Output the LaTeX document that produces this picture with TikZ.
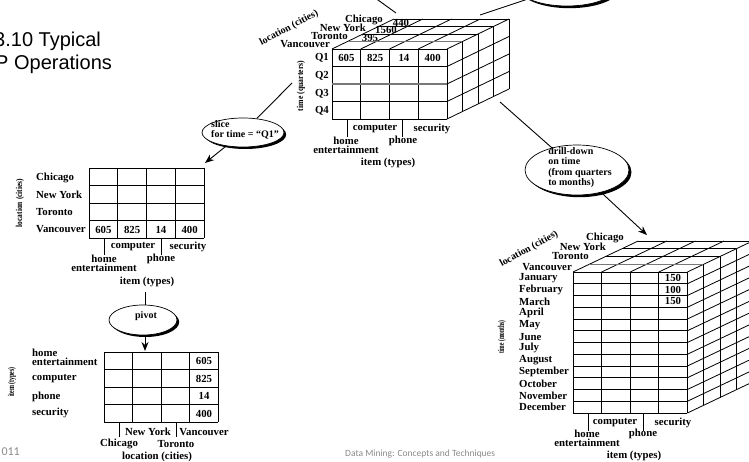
\documentclass[tikz,border=0pt]{standalone}
\usepackage{fontspec}
\setmainfont{Liberation Serif}
\newfontfamily\titlefont{Liberation Sans}
\newfontfamily\footfont{Carlito}
\usetikzlibrary{shapes.geometric,arrows.meta}
\definecolor{footgray}{RGB}{137,137,137}
\definecolor{seam}{RGB}{120,120,120}

\begin{document}
\begin{tikzpicture}[x=1pt,y=-1pt,
  lbl/.style={font=\bfseries\fontsize{10.8}{10.8}\selectfont, inner sep=0pt},
  slant/.style={font=\bfseries\fontsize{10}{10}\selectfont, inner sep=0pt},
  axis/.style={font=\bfseries\fontsize{9}{9}\selectfont, inner sep=0pt},
  grid/.style={line width=0.8pt},
  seamline/.style={line width=1.1pt, draw=seam},
  conn/.style={line width=0.9pt},
  arr/.style={conn, -{Stealth[length=9pt,width=7pt]}},
  op/.style={ellipse, draw, line width=0.7pt, fill=white, inner sep=0pt},
  opshade/.style={ellipse, fill=black, inner sep=0pt},
  optext/.style={inner sep=0pt, align=left, font=\bfseries\fontsize{10}{10.3}\selectfont},
]
\useasboundingbox (0,0) rectangle (749,462);

% ---------- title and footer ----------
\node[font=\titlefont\fontsize{20}{24}\selectfont, anchor=base west, inner sep=0pt] (title1) at (-6,46.5) {3.10 Typical};
\node[font=\titlefont\fontsize{20}{24}\selectfont, anchor=base west, inner sep=0pt] (title2) at (-5,70) {P Operations};
\node[font=\footfont\fontsize{9.5}{10}\selectfont, text=footgray, anchor=base west, inner sep=0pt] (foot) at (345,456.5) {Data Mining: Concepts and Techniques};
\node[font=\footfont\fontsize{12}{12}\selectfont, text=footgray, anchor=base east, inner sep=0pt] (year) at (20,455) {011};

% ---------- source cube (quarters) ----------
\foreach \i in {0,...,4} \draw[grid] ({332+28.75*\i},49) -- ++(0,70);
\foreach \j in {0,1,3,4} \draw[grid] (332,{49+17.5*\j}) -- ++(115,0);
\draw[seamline] (332,84) -- ++(115,0);
\foreach \i in {0,...,4} \draw[grid] ({332+28.75*\i},49) -- ++(62,-30);
\foreach \d in {2,3,4} \draw[grid] ({332+15.5*\d},{49-7.5*\d}) -- ++(115,0);
\draw[seamline] (347.5,41.5) -- ++(115,0);
\foreach \j in {1,...,4} \draw[grid] (447,{49+17.5*\j}) -- ++(62,-30);
\foreach \d in {1,...,4} \draw[grid] ({447+15.5*\d},{49-7.5*\d}) -- ++(0,70);

\node[lbl, anchor=east] (cchi) at (383,20) {Chicago};
\node[lbl, anchor=east] (cny)  at (366,28) {New York};
\node[lbl, anchor=east] (ctor) at (348,36) {Toronto};
\node[lbl, anchor=east] (cvan) at (330,44) {Vancouver};
\node[lbl] (v440)  at (401,22.5) {440};
\node[lbl] (v1560) at (386,30) {1560};
\node[lbl] (v395)  at (370,38) {395};
\node[slant, rotate=28] (cloc) at (289,28) {location (cities)};

\node[lbl, anchor=east] (q1) at (329,58) {Q1};
\node[lbl, anchor=east] (q2) at (329,76) {Q2};
\node[lbl, anchor=east] (q3) at (329,93.5) {Q3};
\node[lbl, anchor=east] (q4) at (329,111) {Q4};
\node[lbl] (c605) at (346.4,58) {605};
\node[lbl] (c825) at (375.1,58) {825};
\node[lbl] (c14)  at (403.9,58) {14};
\node[lbl] (c400) at (432.6,58) {400};
\node[axis, rotate=90] (ctime) at (301,86) {\scalebox{0.86}[1]{time (quarters)}};

\draw[grid] (347,119) -- (347,137);
\draw[grid] (402,119) -- (402,137);
\node[lbl] (ccomp) at (375,129) {computer};
\node[lbl] (csec)  at (432,129) {security};
\node[lbl] (chome) at (346,141) {home};
\node[lbl] (cent)  at (346,150) {entertainment};
\node[lbl] (cphone) at (403,141) {phone};
\node[lbl] (citem) at (388,163) {item (types)};

% ---------- slice result ----------
\foreach \i in {0,...,4} \draw[grid] ({89+28.75*\i},168) -- ++(0,70);
\foreach \j in {0,...,4} \draw[grid] (89,{168+17.5*\j}) -- ++(115,0);
\node[lbl, anchor=west] (schi) at (36,178) {Chicago};
\node[lbl, anchor=west] (sny)  at (36,195) {New York};
\node[lbl, anchor=west] (stor) at (36,212.5) {Toronto};
\node[lbl, anchor=west] (svan) at (36,229.5) {Vancouver};
\node[lbl] (s605) at (103.4,229.5) {605};
\node[lbl] (s825) at (132.1,229.5) {825};
\node[lbl] (s14)  at (160.9,229.5) {14};
\node[lbl] (s400) at (189.6,229.5) {400};
\node[axis, rotate=90] (sloc) at (20,203) {\scalebox{0.83}[1]{location (cities)}};
\draw[grid] (104,238) -- (104,255);
\draw[grid] (161,238) -- (161,255);
\node[lbl] (scomp) at (133,247) {computer};
\node[lbl] (ssec)  at (188,247) {security};
\node[lbl] (shome) at (104,259) {home};
\node[lbl] (sent)  at (104,268) {entertainment};
\node[lbl] (sphone) at (161,259) {phone};
\node[lbl] (sitem) at (147,282) {item (types)};

% ---------- pivot result ----------
\foreach \i in {0,...,4} \draw[grid] ({104+28.5*\i},352) -- ++(0,70);
\foreach \j in {0,...,4} \draw[grid] (104,{352+17.5*\j}) -- ++(114,0);
\node[lbl, anchor=west] (phome) at (32,353) {home};
\node[lbl, anchor=west] (pent)  at (32,362) {entertainment};
\node[lbl, anchor=west] (pcomp) at (32,379) {computer};
\node[lbl, anchor=west] (pphone) at (32,396.5) {phone};
\node[lbl, anchor=west] (psec)  at (32,413) {security};
\node[lbl] (p605) at (204,361) {605};
\node[lbl] (p825) at (204,378.5) {825};
\node[lbl] (p14)  at (204,396) {14};
\node[lbl] (p400) at (204,413.5) {400};
\node[axis, rotate=90] (pitem) at (12,382) {\scalebox{0.66}[1]{item (types)}};
\draw[grid] (119,422) -- (119,437);
\draw[grid] (176,422) -- (176,437);
\node[lbl] (pny)  at (148,432) {New York};
\node[lbl] (pvan) at (204,432) {Vancouver};
\node[lbl] (pchi) at (119,444) {Chicago};
\node[lbl] (ptor) at (176,444) {Toronto};
\node[lbl] (ploc) at (157,457) {location (cities)};

% ---------- drill-down result (months) ----------
\foreach \i in {0,...,4} \draw[grid] ({573+28.6*\i},272) -- ++(0,141);
\foreach \j in {0,...,12} \draw[grid] (573,{272+11.75*\j}) -- ++(114.4,0);
\foreach \i in {0,...,4} \draw[grid] ({573+28.6*\i},272) -- ++(65.2,-31);
\foreach \d in {2,3,4} \draw[grid] ({573+16.3*\d},{272-7.75*\d}) -- ++(114.4,0);
\draw[seamline] (589.3,264.25) -- ++(114.4,0);
\foreach \j in {1,...,12} \draw[grid] (687.4,{272+11.75*\j}) -- ++(65.2,-31);
\foreach \d in {1,...,4} \draw[grid] ({687.4+16.3*\d},{272-7.75*\d}) -- ++(0,141);

\node[lbl, anchor=east] (mchi) at (624,238) {Chicago};
\node[lbl, anchor=east] (mny)  at (606,247) {New York};
\node[lbl, anchor=east] (mtor) at (589,256) {Toronto};
\node[lbl, anchor=east] (mvan) at (572,267) {Vancouver};
\node[slant, rotate=29] (mloc) at (529,249) {location (cities)};
\foreach \m [count=\k from 0] in {January,February,March,April,May,June,July,August,September,October,November,December}
  \node[lbl, anchor=west] (month\k) at (519,{272+11.75*(\k+0.5)}) {\m};
\node[lbl] (m150a) at (673,278) {150};
\node[lbl] (m100)  at (673,289.6) {100};
\node[lbl] (m150b) at (673,301.4) {150};
\node[axis, rotate=90] (mtime) at (502,337) {\scalebox{0.61}[1]{time (months)}};
\draw[grid] (588,413) -- (588,431);
\draw[grid] (643,413) -- (643,431);
\node[lbl] (mcomp) at (615,423) {computer};
\node[lbl] (msec)  at (673,423) {security};
\node[lbl] (mhome) at (587,434) {home};
\node[lbl] (ment)  at (587,443) {entertainment};
\node[lbl] (mphone) at (643,434) {phone};
\node[lbl] (mitem) at (634,456) {item (types)};

% ---------- operation ellipses (black copy behind gives the shadow) ----------
\node[opshade, minimum width=82pt, minimum height=29pt] (sliceshade) at (245.2,134.5) {};
\node[op, minimum width=82pt, minimum height=29pt] (slice) at (243,132.5) {};
\node[optext] (slicetxt) at (245,129.5) {slice\\for time = “Q1”};
\node[opshade, minimum width=104pt, minimum height=50pt] (drillshade) at (579.5,172.2) {};
\node[op, minimum width=104pt, minimum height=50pt] (drill) at (577,170) {};
\node[optext] (drilltxt) at (580,167.5) {drill-down\\on time\\(from quarters\\to months)};
\node[opshade, minimum width=68pt, minimum height=30pt] (pivotshade) at (145.2,322) {};
\node[op, minimum width=68pt, minimum height=30pt] (pivot) at (143,320) {};
\node[optext] (pivottxt) at (146,316) {pivot};
\node[opshade, minimum width=100pt, minimum height=40pt] (rollupshade) at (569.5,-11.8) {};
\node[op, minimum width=100pt, minimum height=40pt] (rollup) at (567,-14) {};

% ---------- connectors ----------
\coordinate (diceend) at (360,-13);
\coordinate (cubeTL) at (396,13);
\draw[conn] (diceend) -- (cubeTL);
\coordinate (cubeTR) at (480,15);
\draw[conn] (rollup) -- (cubeTR);
\coordinate (cubeSlice) at (292,83);
\draw[conn] (cubeSlice) -- (slice);
\coordinate (sliceTip) at (205,163);
\draw[arr] (slice) -- (sliceTip);
\coordinate (cubeDrill) at (500,102);
\draw[conn] (cubeDrill) -- (drill);
\coordinate (drillTip) at (647,235);
\draw[arr] (drill) -- (drillTip);
\coordinate (sliceBot) at (145,292);
\draw[conn] (sliceBot) -- (sliceBot |- pivot.north);
\coordinate (pivotTip) at (145,351);
\draw[arr] (pivotTip |- pivotshade.south) -- (pivotTip);
\end{tikzpicture}
\end{document}
